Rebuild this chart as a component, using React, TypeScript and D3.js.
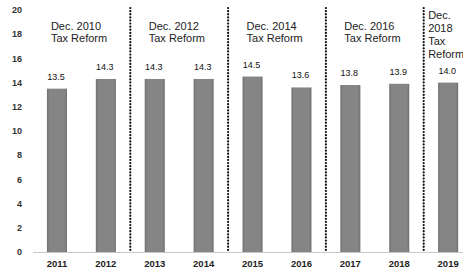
import React from "react";
import * as d3 from "d3";

const years = ["2011", "2012", "2013", "2014", "2015", "2016", "2017", "2018", "2019"];
const values = [13.5, 14.3, 14.3, 14.3, 14.5, 13.6, 13.8, 13.9, 14.0];
const yTicks = [0, 2, 4, 6, 8, 10, 12, 14, 16, 18, 20];
const reformLabels = [
  { lines: ["Dec. 2010", "Tax Reform"], startYear: "2011" },
  { lines: ["Dec. 2012", "Tax Reform"], startYear: "2013" },
  { lines: ["Dec. 2014", "Tax Reform"], startYear: "2015" },
  { lines: ["Dec. 2016", "Tax Reform"], startYear: "2017" },
  { lines: ["Dec.", "2018", "Tax", "Reform"], startYear: "2019" },
];
const dividerAfter = ["2012", "2014", "2016", "2018"];

export default function App() {
  const W = 463, H = 275;
  const x = d3.scaleBand<string>().domain(years).range([32.5, 472.6]).paddingInner(0.59).paddingOuter(0.295);
  const y = d3.scaleLinear().domain([0, 20]).range([252, 10]);
  const font = "'Liberation Sans', Arial, sans-serif";
  const bw = x.bandwidth();
  const step = x.step();
  return (
    <svg width={W} height={H} style={{ position: "absolute", left: 0, top: 0, background: "#fff" }} fontFamily={font}>
      <defs>
        <linearGradient id="barg" x1="0" x2="1" y1="0" y2="0">
          <stop offset="0" stopColor="#6f6f6f" />
          <stop offset="0.12" stopColor="#858585" />
          <stop offset="0.88" stopColor="#858585" />
          <stop offset="1" stopColor="#6f6f6f" />
        </linearGradient>
      </defs>
      {yTicks.map((t) => (
        <text key={t} x={22} y={y(t)} dy="0.35em" textAnchor="end" fontSize={9} fontWeight="bold" fill="#333">
          {t}
        </text>
      ))}
      <line x1={33} x2={W} y1={y(0) + 0.5} y2={y(0) + 0.5} stroke="#c8c8c8" strokeWidth={1} />
      {years.map((yr, i) => (
        <g key={yr}>
          <rect x={x(yr)} y={y(values[i])} width={bw} height={y(0) - y(values[i])} fill="url(#barg)" />
          <text x={x(yr)! + bw / 2 - 1} y={y(values[i]) - 9} textAnchor="middle" fontSize={9} fill="#111">
            {values[i].toFixed(1)}
          </text>
          <text x={x(yr)! + bw / 2} y={y(0) + 12} dy="0.35em" textAnchor="middle" fontSize={9.5} fontWeight="bold" fill="#222">
            {yr}
          </text>
        </g>
      ))}
      {dividerAfter.map((yr) => {
        const cx = x(yr)! + bw / 2 + step / 2;
        return (
          <line key={yr} x1={cx} x2={cx} y1={8} y2={y(0) - 1} stroke="#111" strokeWidth={2.2} strokeDasharray="0.1 3" strokeLinecap="round" />
        );
      })}
      {reformLabels.map((r, i) => {
        const last = r.lines.length > 2;
        const x0 = last ? x(r.startYear)! - 10 : x(r.startYear)! + 4;
        const y0 = last ? 15 : 26;
        const lh = last ? 13 : 12;
        return (
          <text key={i} x={x0} y={y0} fontSize={11} fill="#222">
            {r.lines.map((l, j) => (
              <tspan key={j} x={x0} y={y0 + j * lh} dy="0.35em">
                {l}
              </tspan>
            ))}
          </text>
        );
      })}
    </svg>
  );
}
